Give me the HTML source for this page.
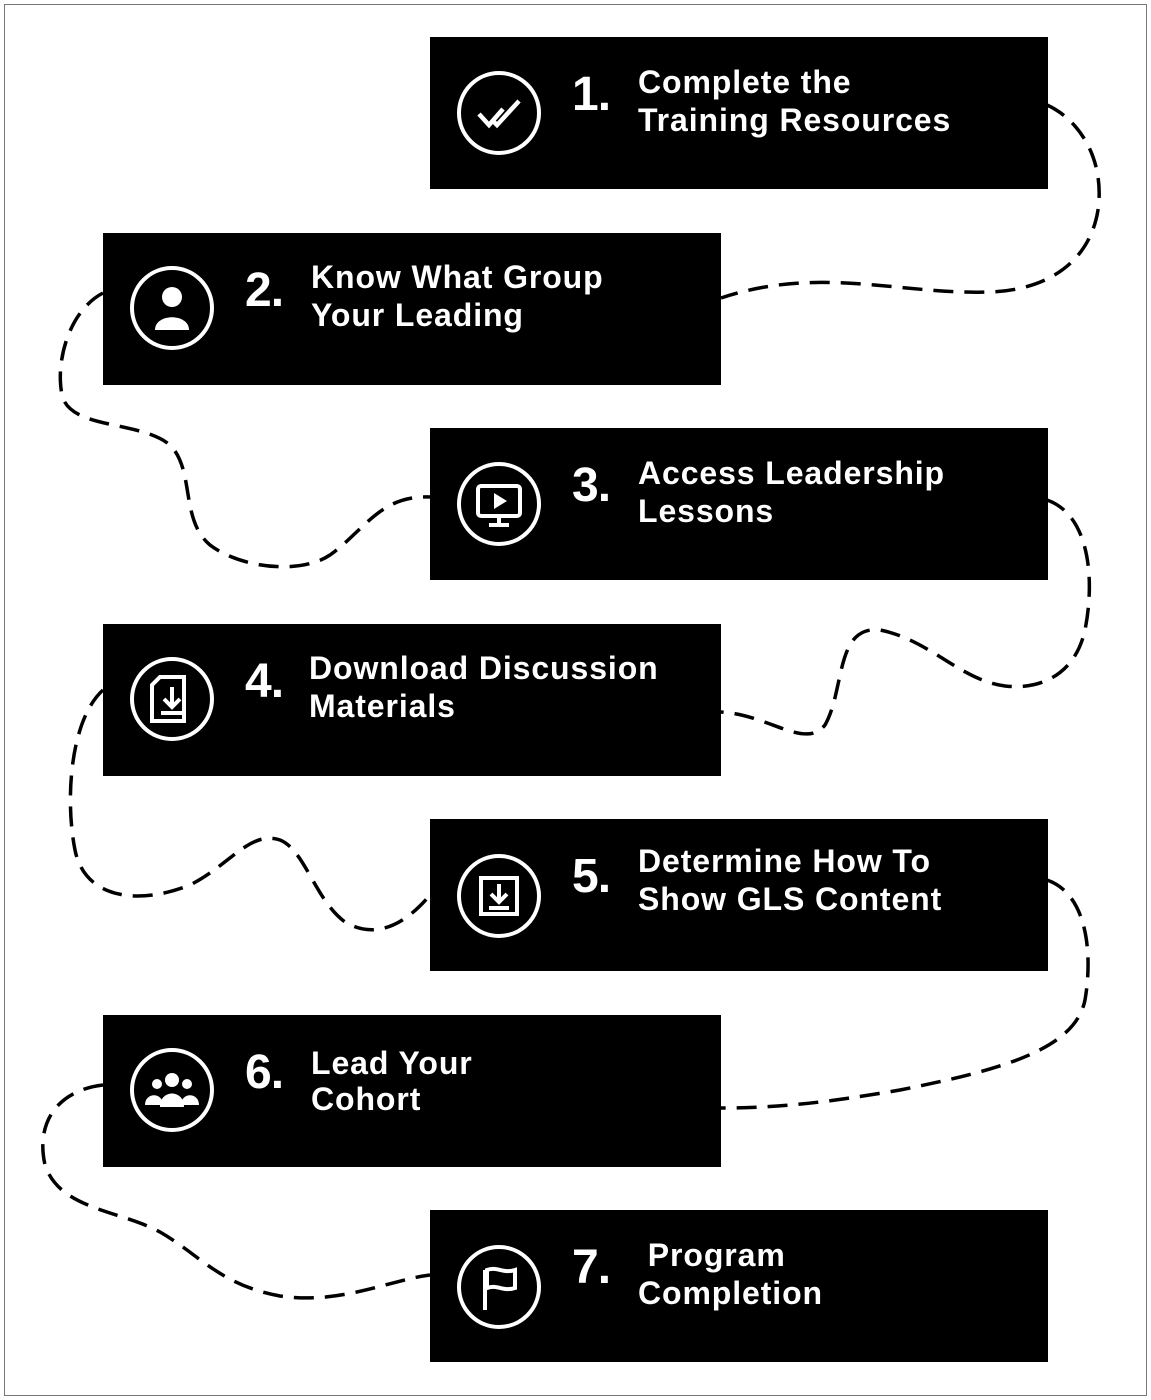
<!DOCTYPE html>
<html><head><meta charset="utf-8"><style>
html,body{margin:0;padding:0;background:#fff}
body{width:1151px;height:1400px;position:relative;overflow:hidden;font-family:"Liberation Sans",Arial,sans-serif}
.frame{position:absolute;left:4px;top:4px;width:1141px;height:1390px;border:1px solid #777}
.box{position:absolute;width:618px;height:152px;background:#000;color:#fff}
.num{position:absolute;font-weight:bold;font-size:48px;letter-spacing:-1px}
.txt{position:absolute;font-weight:bold;font-size:32px;letter-spacing:0.9px;line-height:38px;white-space:nowrap}
svg{position:absolute;left:0;top:0}
</style></head><body>
<div class="frame"></div>
<svg width="1151" height="1400" fill="none" stroke="#000" stroke-width="3.5" stroke-dasharray="20 11">
<path d="M1047,105 C1080,120 1105,160 1098,210 C1090,260 1050,290 990,292 C900,295 820,265 721,298"/>
<path d="M103,293 C70,310 55,360 62,395 C70,430 140,420 170,445 C195,470 180,520 210,545 C240,568 300,575 330,555 C365,530 380,495 430,497"/>
<path d="M1047,500 C1090,515 1095,580 1085,630 C1075,675 1040,690 1005,686 C960,680 930,640 880,630 C835,625 845,690 825,725 C805,750 770,715 721,712"/>
<path d="M103,690 C70,720 65,800 75,850 C85,900 140,905 190,885 C230,865 250,830 280,840 C305,850 315,900 345,922 C375,940 405,925 430,895"/>
<path d="M1047,880 C1090,895 1092,960 1085,1000 C1075,1050 1000,1070 900,1090 C830,1102 780,1108 721,1108"/>
<path d="M103,1085 C60,1090 35,1120 45,1165 C60,1210 120,1210 160,1232 C200,1255 220,1285 280,1296 C340,1305 390,1280 430,1275"/>
</svg>

<div class="box" style="left:430px;top:37px">
<svg width="100" height="152" style="left:27px;top:0"><circle cx="42" cy="76" r="40" stroke="#fff" stroke-width="4" fill="none"/><path d="M22,77 L32,88 L46,72 M35,83 L40,88 L62,64" stroke="#fff" stroke-width="4.5" fill="none"/></svg>
<div class="num" style="left:142px;top:30px">1.</div>
<div class="txt" style="left:208px;top:26px">Complete the<br>Training Resources</div></div>

<div class="box" style="left:103px;top:233px">
<svg width="100" height="152" style="left:27px;top:0"><circle cx="42" cy="75" r="40" stroke="#fff" stroke-width="4" fill="none"/><circle cx="42" cy="64" r="10" fill="#fff"/><path d="M25,97 C25,80 59,80 59,97 Z" fill="#fff"/></svg>
<div class="num" style="left:142px;top:30px">2.</div>
<div class="txt" style="left:208px;top:25px">Know What Group<br>Your Leading</div></div>

<div class="box" style="left:430px;top:428px">
<svg width="100" height="152" style="left:27px;top:0"><circle cx="42" cy="76" r="40" stroke="#fff" stroke-width="4" fill="none"/><rect x="21" y="58" width="42" height="30" rx="3" stroke="#fff" stroke-width="4" fill="none"/><path d="M37,65 L50,73 L37,81 Z" fill="#fff"/><path d="M42,88 V96 M32,97 H52" stroke="#fff" stroke-width="4"/></svg>
<div class="num" style="left:142px;top:30px">3.</div>
<div class="txt" style="left:208px;top:26px">Access Leadership<br>Lessons</div></div>

<div class="box" style="left:103px;top:624px">
<svg width="100" height="152" style="left:27px;top:0"><circle cx="42" cy="75" r="40" stroke="#fff" stroke-width="4" fill="none"/><path d="M30,53 H54 V97 H22 V61 Z" stroke="#fff" stroke-width="4" fill="none"/><path d="M42,63 V82 M34,75 L42,83 L50,75 M31,89 H53" stroke="#fff" stroke-width="4" fill="none"/></svg>
<div class="num" style="left:142px;top:30px">4.</div>
<div class="txt" style="left:206px;top:25px">Download Discussion<br>Materials</div></div>

<div class="box" style="left:430px;top:819px">
<svg width="100" height="152" style="left:27px;top:0"><circle cx="42" cy="77" r="40" stroke="#fff" stroke-width="4" fill="none"/><rect x="24" y="59" width="36" height="36" stroke="#fff" stroke-width="4" fill="none"/><path d="M42,65 V82 M34,75 L42,83 L50,75 M32,89 H52" stroke="#fff" stroke-width="4" fill="none"/></svg>
<div class="num" style="left:142px;top:30px">5.</div>
<div class="txt" style="left:208px;top:23px">Determine How To<br>Show GLS Content</div></div>

<div class="box" style="left:103px;top:1015px">
<svg width="100" height="152" style="left:27px;top:0"><circle cx="42" cy="75" r="40" stroke="#fff" stroke-width="4" fill="none"/><circle cx="42" cy="65" r="7" fill="#fff"/><circle cx="27" cy="69" r="5" fill="#fff"/><circle cx="57" cy="69" r="5" fill="#fff"/><path d="M30,92 C30,74 54,74 54,92 Z M15,90 C15,77 33,77 33,90 Z M51,90 C51,77 69,77 69,90 Z" fill="#fff"/></svg>
<div class="num" style="left:142px;top:30px">6.</div>
<div class="txt" style="left:208px;top:30px;line-height:36px">Lead Your<br>Cohort</div></div>

<div class="box" style="left:430px;top:1210px">
<svg width="100" height="152" style="left:27px;top:0"><circle cx="42" cy="77" r="40" stroke="#fff" stroke-width="4" fill="none"/><path d="M28,100 V60" stroke="#fff" stroke-width="4"/><path d="M30,60 C40,56 46,64 58,60 V78 C46,82 40,74 30,78 Z" stroke="#fff" stroke-width="4" fill="none"/></svg>
<div class="num" style="left:142px;top:30px">7.</div>
<div class="txt" style="left:208px;top:26px">&nbsp;Program<br>Completion</div></div>
</body></html>
